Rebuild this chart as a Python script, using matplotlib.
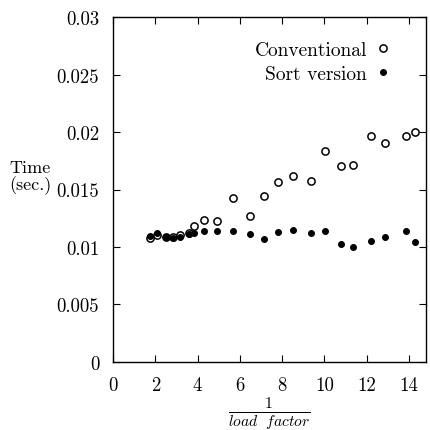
import numpy as np
from matplotlib import pyplot as plt

plt.rcParams['font.family'] = 'cmr10'
plt.rcParams['mathtext.fontset'] = 'cm'
plt.rcParams['axes.formatter.use_mathtext'] = True

# 1 / load factor
conv_x = [1.76, 2.10, 2.50, 2.83, 3.15, 3.58, 3.84, 4.32, 4.92, 5.66, 6.47, 7.15,
          7.83, 8.53, 9.35, 10.05, 10.81, 11.36, 12.23, 12.85, 13.89, 14.27]
conv_t = [0.01076, 0.0110, 0.01085, 0.01085, 0.0110, 0.0112, 0.01184, 0.01237, 0.01222,
          0.01427, 0.01266, 0.01444, 0.01567, 0.01614, 0.01573, 0.01839, 0.01705,
          0.01711, 0.01968, 0.01906, 0.01968, 0.01997]

sort_x = conv_x
sort_t = [0.01096, 0.0112, 0.01085, 0.01076, 0.0109, 0.01114, 0.0112, 0.01138, 0.01143,
          0.01143, 0.01117, 0.01067, 0.01126, 0.01146, 0.01123, 0.01143, 0.01023,
          0.01003, 0.01053, 0.0109, 0.01143, 0.01044]

xticks = [0, 2, 4, 6, 8, 10, 12, 14]
yticks = [0, 0.005, 0.01, 0.015, 0.02, 0.025, 0.03]
ytick_labels = ['0', '0.005', '0.01', '0.015', '0.02', '0.025', '0.03']

fig = plt.figure(figsize=(4.30, 4.31), dpi=100)
ax = fig.add_axes([0.263, 0.158, 0.728, 0.800])

ax.plot(conv_x, conv_t, linestyle='none', marker='o', ms=5.2, mfc='white',
        mec='black', mew=1.1, label='Conventional')
ax.plot(sort_x, sort_t, linestyle='none', marker='o', ms=4.2, mfc='black',
        mec='black', mew=0.8, label='Sort version')

ax.set_xlim(0, 14.82)
ax.set_ylim(0, 0.03)
ax.set_xticks(xticks)
ax.set_xticklabels([str(v) for v in xticks])
ax.set_yticks(yticks)
ax.set_yticklabels(ytick_labels)
ax.tick_params(direction='in', length=5, width=0.8, top=True, right=True,
               labelsize=13.5, pad=10)
ax.tick_params(axis='y', pad=10)
for s in ax.spines.values():
    s.set_linewidth(1.0)

ax.set_xlabel(r'$\frac{1}{load\ \ factor}$', fontsize=16, labelpad=0)
fig.text(0.022, 0.587, 'Time\n(sec.)', fontsize=13, ha='left', va='center',
         linespacing=1.0)

leg = ax.legend(loc='upper right', markerfirst=False, frameon=False, fontsize=14,
                handlelength=1.0, handletextpad=0.3, labelspacing=0.3,
                borderpad=0, borderaxespad=0, bbox_to_anchor=(0.892, 0.93))

fig.savefig('out.png', dpi=100)
